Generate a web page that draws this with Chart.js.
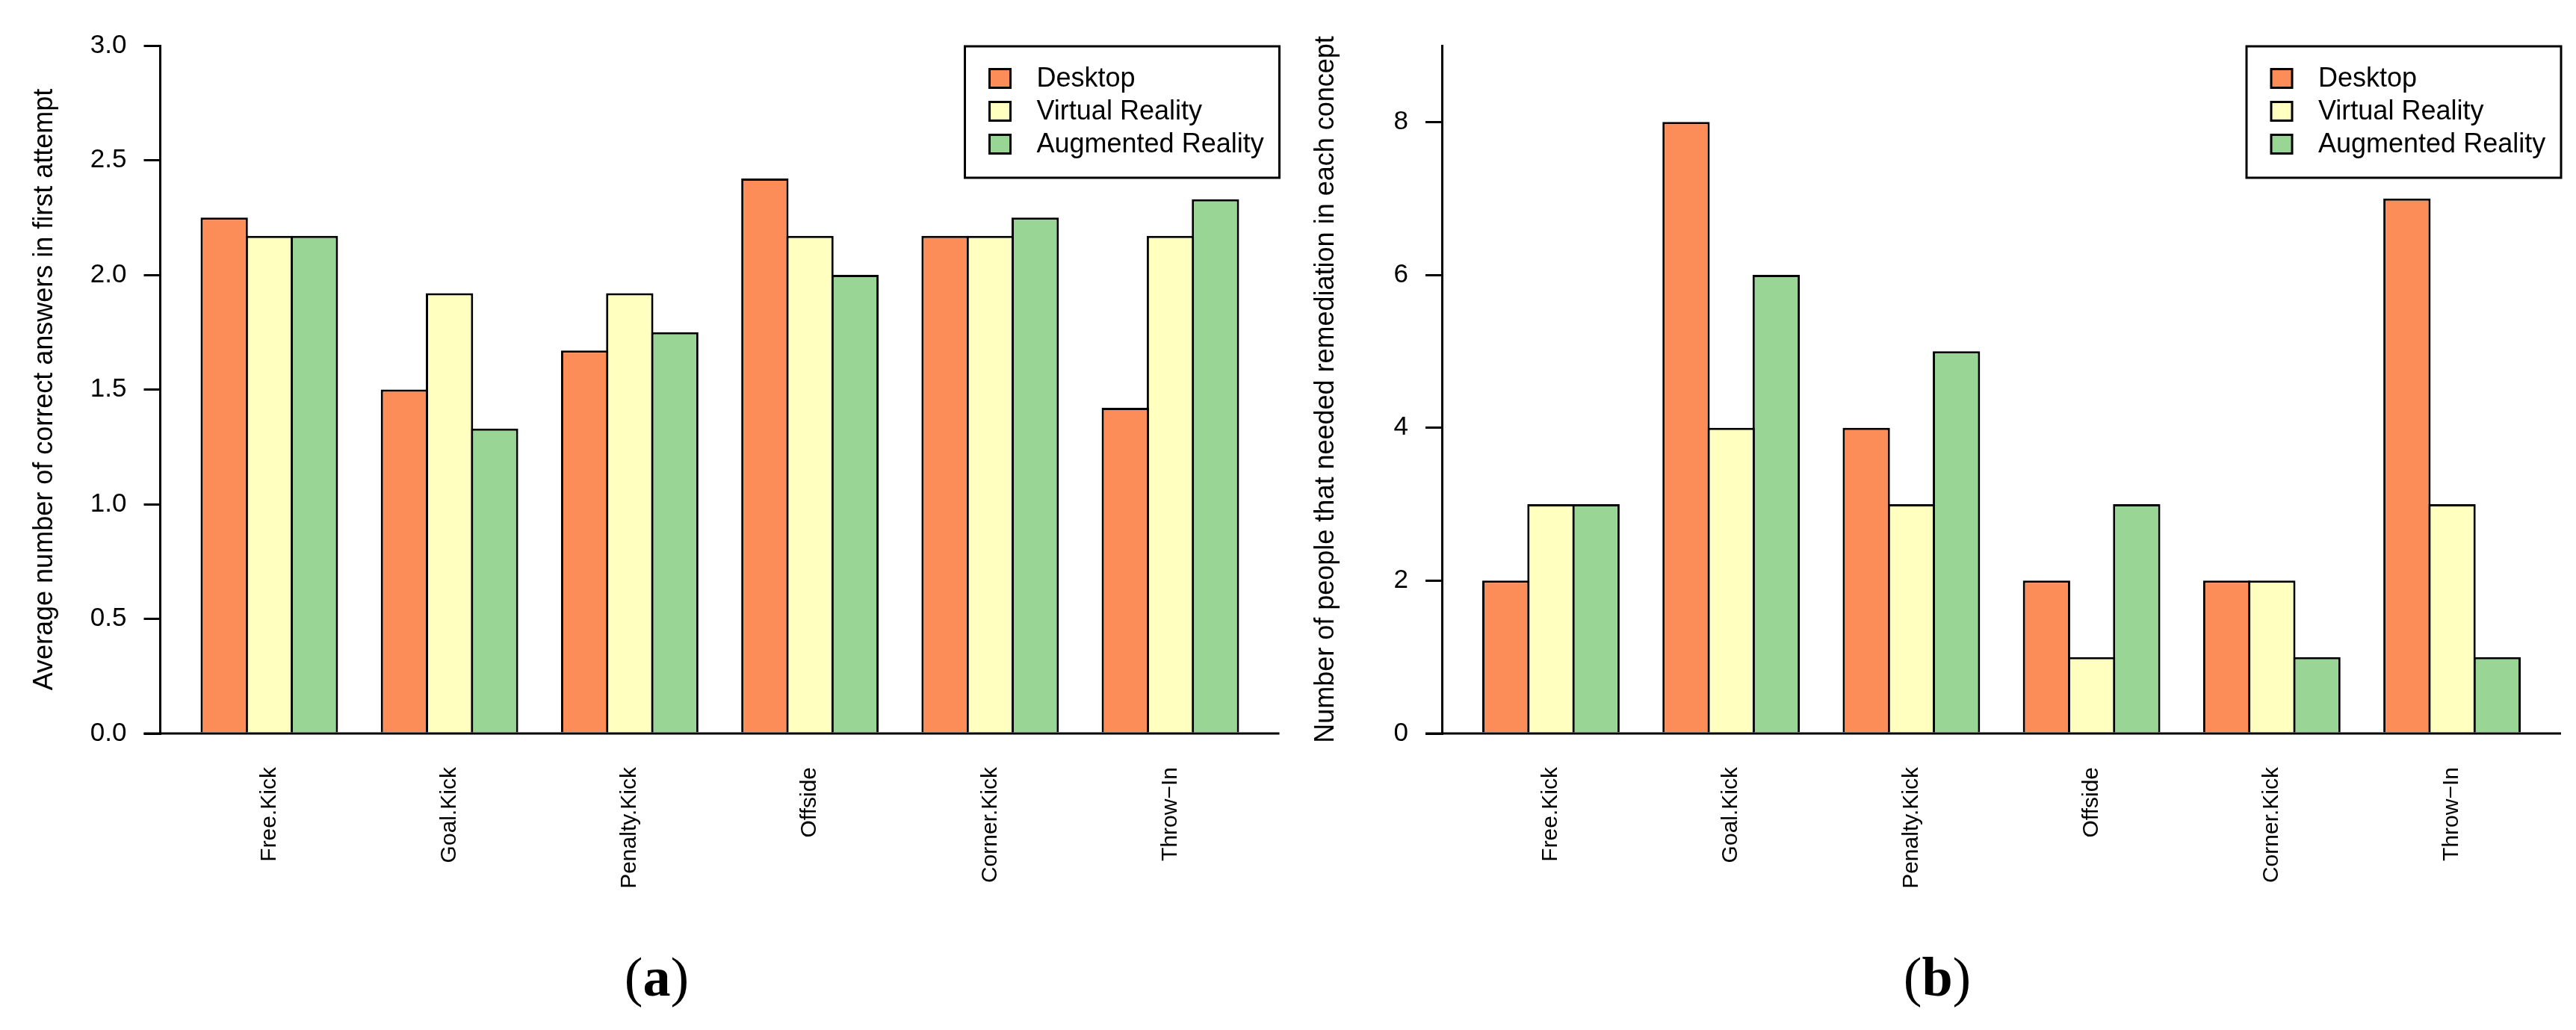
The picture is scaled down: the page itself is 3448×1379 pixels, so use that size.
<!DOCTYPE html>
<html>
<head>
<meta charset="utf-8">
<title>Concept charts</title>
<script src="https://cdn.jsdelivr.net/npm/chart.js@4.4.0/dist/chart.umd.min.js"></script>
<style>
  html, body { margin: 0; padding: 0; background: #ffffff; }
  #wrap { position: relative; width: 3448px; height: 1379px; overflow: hidden; }
  .panel { position: absolute; top: 0; width: 1724px; height: 1379px; }
  #panelA { left: 0; }
  #panelB { left: 1724px; }
</style>
</head>
<body>
<div id="wrap">
  <div class="panel" id="panelA"><canvas id="chartA" width="1724" height="1379"></canvas></div>
  <div class="panel" id="panelB"><canvas id="chartB" width="1724" height="1379"></canvas></div>
</div>
<script>
// Categories and series
const categories = ["Free.Kick", "Goal.Kick", "Penalty.Kick", "Offside", "Corner.Kick", "Throw\u2212In"];
const seriesNames = ["Desktop", "Virtual Reality", "Augmented Reality"];
const seriesColors = ["#FC8D59", "#FFFFBF", "#99D594"];

// (a) average number of correct answers in first attempt
const desktopAnswers = [2.25, 1.50, 1.67, 2.42, 2.17, 1.42];
const vrAnswers      = [2.17, 1.92, 1.92, 2.17, 2.17, 2.17];
const arAnswers      = [2.17, 1.33, 1.75, 2.00, 2.25, 2.33];
const answerTicks = [0, 0.5, 1.0, 1.5, 2.0, 2.5, 3.0];

// (b) number of people that needed remediation
const desktopRemediation = [2, 8, 4, 2, 2, 7];
const vrRemediation      = [3, 4, 3, 1, 2, 3];
const arRemediation      = [3, 6, 5, 3, 1, 1];
const remediationTicks = [0, 2, 4, 6, 8];

const sansFont = "'Liberation Sans', Arial, Helvetica, sans-serif";
const serifFont = "'Liberation Serif', 'Times New Roman', serif";

// Horizontal line along zero, running from the tick end to the plot edge
const baselinePlugin = {
    id: 'baseline',
    afterDatasetsDraw(chart) {
        const ctx = chart.ctx;
        const area = chart.chartArea;
        const y = chart.scales.y.getPixelForValue(0);
        ctx.save();
        ctx.strokeStyle = '#000';
        ctx.lineWidth = 3;
        ctx.beginPath();
        ctx.moveTo(area.left - 22, y);
        ctx.lineTo(area.right, y);
        ctx.stroke();
        ctx.restore();
    }
};

// Boxed legend in the top right corner of the plot
const boxLegendPlugin = {
    id: 'boxLegend',
    afterDraw(chart) {
        const ctx = chart.ctx;
        const area = chart.chartArea;
        const w = 421, h = 176;
        const left = area.right - w;
        const top = area.top + 1;
        ctx.save();
        ctx.fillStyle = '#fff';
        ctx.fillRect(left, top, w, h);
        ctx.strokeStyle = '#000';
        ctx.lineWidth = 3;
        ctx.strokeRect(left, top, w, h);
        ctx.font = '36px ' + sansFont;
        ctx.textBaseline = 'middle';
        ctx.textAlign = 'left';
        chart.data.datasets.forEach(function(ds, i) {
            const cy = top + 43 + i * 44;
            ctx.fillStyle = ds.backgroundColor;
            ctx.fillRect(left + 33, cy - 12.5, 28, 25);
            ctx.strokeRect(left + 33, cy - 12.5, 28, 25);
            ctx.fillStyle = '#000';
            ctx.fillText(ds.label, left + 96, cy + 1);
        });
        ctx.restore();
    }
};

// Panel caption such as "(a)" with a bold letter
const captionPlugin = {
    id: 'caption',
    afterDraw(chart, args, opts) {
        const ctx = chart.ctx;
        const regular = '74px ' + serifFont;
        const bold = 'bold 74px ' + serifFont;
        ctx.save();
        ctx.fillStyle = '#000';
        ctx.textBaseline = 'alphabetic';
        ctx.textAlign = 'left';
        ctx.font = regular;
        const wOpen = ctx.measureText('(').width;
        const wClose = ctx.measureText(')').width;
        ctx.font = bold;
        const wLetter = ctx.measureText(opts.letter).width;
        let x = opts.x - (wOpen + wLetter + wClose) / 2;
        const y = opts.y;
        ctx.font = regular;
        ctx.fillText('(', x, y);
        x += wOpen;
        ctx.font = bold;
        ctx.fillText(opts.letter, x, y);
        x += wLetter;
        ctx.font = regular;
        ctx.fillText(')', x, y);
        ctx.restore();
    }
};

function makeChart(canvasId, setup) {
    const datasets = setup.series.map(function(values, s) {
        return {
            label: seriesNames[s],
            data: categories.map(function(c, i) { return { x: i, y: values[i] }; }),
            backgroundColor: seriesColors[s],
            borderColor: '#000',
            borderWidth: 3,
            inflateAmount: 0,
            categoryPercentage: 0.75,
            barPercentage: 1.0498
        };
    });

    return new Chart(document.getElementById(canvasId), {
        type: 'bar',
        data: { datasets: datasets },
        options: {
            responsive: false,
            animation: false,
            layout: { padding: { left: 0, top: 61, right: setup.padRight, bottom: 0 } },
            plugins: {
                legend: { display: false },
                tooltip: { enabled: false },
                caption: { letter: setup.letter, x: setup.captionX, y: 1333 }
            },
            scales: {
                x: {
                    type: 'linear',
                    bounds: 'data',
                    offset: false,
                    min: -0.605,
                    max: 5.605,
                    grid: { display: false, drawTicks: false, offset: false },
                    border: { display: false },
                    afterBuildTicks(scale) {
                        scale.ticks = categories.map(function(c, i) { return { value: i }; });
                    },
                    afterFit(scale) {
                        scale.height = 1379 - 982;
                        scale.paddingLeft = 0;
                        scale.paddingRight = 0;
                    },
                    ticks: {
                        minRotation: 90,
                        maxRotation: 90,
                        autoSkip: false,
                        padding: 45,
                        color: '#000',
                        font: { family: sansFont, size: 30 },
                        callback: function(value, index) { return categories[index]; }
                    }
                },
                y: {
                    type: 'linear',
                    bounds: 'data',
                    min: 0,
                    max: setup.yMax,
                    afterBuildTicks(scale) {
                        scale.ticks = setup.ticks.map(function(v) { return { value: v }; });
                    },
                    afterFit(scale) {
                        scale.width = setup.plotLeft;
                        scale.paddingTop = 0;
                        scale.paddingBottom = 0;
                    },
                    grid: {
                        display: true,
                        drawOnChartArea: false,
                        drawTicks: true,
                        tickLength: 22,
                        color: '#000',
                        lineWidth: 3
                    },
                    border: { display: true, color: '#000', width: 3 },
                    ticks: {
                        padding: 23,
                        color: '#000',
                        font: { family: sansFont, size: 35 },
                        callback: setup.tickFormat
                    },
                    title: {
                        display: true,
                        text: setup.title,
                        color: '#000',
                        font: { family: sansFont, size: 36, lineHeight: 1 },
                        padding: { top: setup.titlePad, bottom: 0 }
                    }
                }
            }
        },
        plugins: [baselinePlugin, boxLegendPlugin, captionPlugin]
    });
}

// Panel (a)
makeChart('chartA', {
    series: [desktopAnswers, vrAnswers, arAnswers],
    yMax: 3,
    ticks: answerTicks,
    tickFormat: function(v) { return v.toFixed(1); },
    title: 'Average number of correct answers in first attempt',
    plotLeft: 214.5,
    padRight: 11.5,
    titlePad: 42.5,
    letter: 'a',
    captionX: 879
});

// Panel (b)
makeChart('chartB', {
    series: [desktopRemediation, vrRemediation, arRemediation],
    yMax: 9,
    ticks: remediationTicks,
    tickFormat: function(v) { return String(v); },
    title: 'Number of people that needed remediation in each concept',
    plotLeft: 206,
    padRight: 20,
    titlePad: 33.5,
    letter: 'b',
    captionX: 869
});
</script>
</body>
</html>
